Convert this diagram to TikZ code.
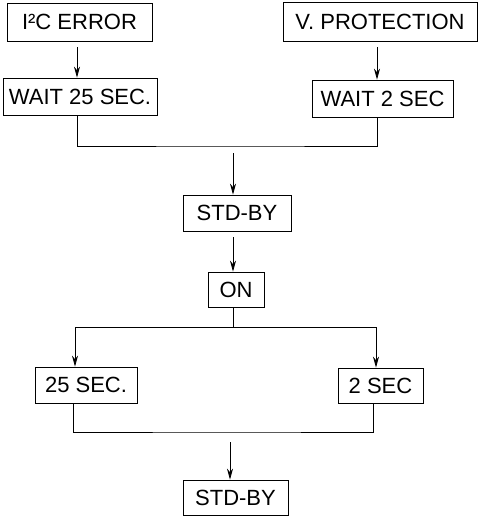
\documentclass[tikz,border=0pt]{standalone}
\usepackage{fontspec}
\setmainfont{Liberation Sans}
\usetikzlibrary{arrows.meta}

\begin{document}
\begin{tikzpicture}[x=1pt,y=-1pt,
        box/.style={draw,line width=0.8pt,inner sep=0pt,font=\fontsize{22}{26}\selectfont},
        arr/.style={-{Stealth[length=11pt,width=6pt]},line width=0.8pt},
        link/.style={line width=0.8pt}]
                \useasboundingbox (0,0) rectangle (482,516);
                \node[box,minimum width=145pt,minimum height=38pt] (i2c) at (79.5,22) {I²C ERROR};
                \node[box,minimum width=194pt,minimum height=39pt] (vprot) at (380,21.5) {V. PROTECTION};
                \node[box,minimum width=154pt,minimum height=37pt] (wait25) at (80,96.5) {WAIT 25 SEC.};
                \node[box,minimum width=141pt,minimum height=37pt] (wait2) at (382.5,98.5) {WAIT 2 SEC};
                \node[box,minimum width=108pt,minimum height=36pt] (stdbyA) at (237,213) {STD-BY};
                \node[box,minimum width=56pt,minimum height=35pt] (on) at (236,289.5) {ON};
                \node[box,minimum width=102pt,minimum height=36pt] (sec25) at (86,385) {25 SEC.};
                \node[box,minimum width=85pt,minimum height=35pt] (sec2) at (380.5,385.5) {2 SEC};
                \node[box,minimum width=105pt,minimum height=35pt] (stdbyB) at (235.5,497.5) {STD-BY};
                \coordinate (join1) at (233,146);
                \coordinate (split) at (233,327);
                \coordinate (join2) at (230,432);
                % top half
                \draw[arr,shorten <=6pt] ([xshift=-2.5pt]i2c.south) -- ([xshift=-2.5pt]i2c.south |- wait25.north);
                \draw[arr,shorten <=6pt] ([xshift=-3pt]vprot.south) -- ([xshift=-3pt]vprot.south |- wait2.north);
                \draw[link] ([xshift=-3pt]wait25.south) |- (join1) -| ([xshift=-5.5pt]wait2.south);
                \draw[arr,shorten <=7pt] (join1) -- (join1 |- stdbyA.north);
                \draw[arr,shorten <=6pt] ([xshift=-4pt]stdbyA.south) -- ([xshift=-4pt]stdbyA.south |- on.north);
                % bottom half
                \draw[link] ([xshift=-3pt]on.south) -- (split);
                \draw[arr] (split) -| ([xshift=-11pt]sec25.north);
                \draw[arr] (split) -| ([xshift=-4.5pt]sec2.north);
                \draw[link] ([xshift=-13pt]sec25.south) |- (join2) -| ([xshift=-7.5pt]sec2.south);
                \draw[arr,shorten <=10pt] (join2) -- (join2 |- stdbyB.north);
\end{tikzpicture}
\end{document}
